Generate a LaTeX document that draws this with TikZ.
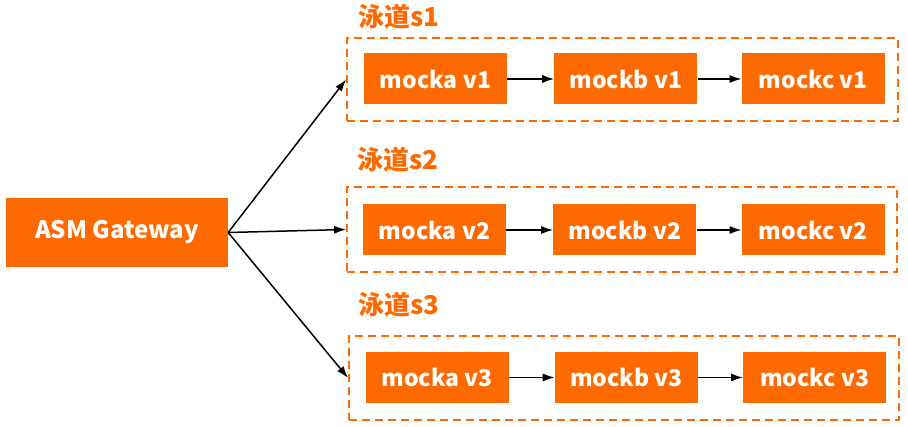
\documentclass[tikz,border=0pt]{standalone}
\usepackage{fontspec}
\setmainfont{Noto Sans CJK SC}
\usetikzlibrary{shapes,arrows,arrows.meta,positioning,calc}
\definecolor{orange1}{RGB}{255,106,0}

\begin{document}
\begin{tikzpicture}[x=1pt, y=-1pt, node distance=47pt,
    >={Latex[length=12pt,width=8pt]},
    box/.style={fill=orange1, text=white, font=\bfseries\fontsize{23}{26}\selectfont,
        minimum width=143pt, minimum height=51pt, inner sep=0pt},
    lane/.style={draw=orange1, line width=1.8pt, dash pattern=on 8pt off 5pt,
        minimum width=550pt, minimum height=84pt, inner sep=0pt},
    lanelabel/.style={text=orange1, font=\bfseries\fontsize{26}{28}\selectfont,
        anchor=west, inner sep=0pt}]
    \useasboundingbox (0,0) rectangle (908,427);

    \node[box, minimum width=222pt, minimum height=69pt, font=\bfseries\fontsize{24}{26}\selectfont] (gw) at (117,232.5) {ASM Gateway};

    % lane s1
    \node[lane, minimum width=551pt, minimum height=83pt] (lane1) at (622.5,79.5) {};
    \node[lanelabel] (label1) at (358,17) {泳道s1};
    \node[box] (mockav1) at (435.5,79) {mocka v1};
    \node[box, right=47pt of mockav1] (mockbv1) {mockb v1};
    \node[box, right=44pt of mockbv1] (mockcv1) {mockc v1};

    % lane s2
    \node[lane, minimum height=85pt] (lane2) at (622,229.5) {};
    \node[lanelabel] (label2) at (357,160) {泳道s2};
    \node[box] (mockav2) at (434.5,230) {mocka v2};
    \node[box, right=47pt of mockav2] (mockbv2) {mockb v2};
    \node[box, right=45pt of mockbv2] (mockcv2) {mockc v2};

    % lane s3
    \node[lane] (lane3) at (624,378) {};
    \node[lanelabel] (label3) at (358,305) {泳道s3};
    \node[box] (mockav3) at (437,377.5) {mocka v3};
    \node[box, right=46pt of mockav3] (mockbv3) {mockb v3};
    \node[box, right=45pt of mockbv3] (mockcv3) {mockc v3};

    \draw[->, line width=1.5pt] (gw.east) -- (lane1.west);
    \draw[->, line width=1.5pt] (gw.east) -- (lane2.west);
    \draw[->, line width=1.5pt] (gw.east) -- (lane3.west);

    \draw[->, line width=1.5pt] (mockav1) -- (mockbv1);
    \draw[->, line width=1.5pt] (mockbv1) -- (mockcv1);
    \draw[->, line width=1.5pt] (mockav2) -- (mockbv2);
    \draw[->, line width=1.5pt] (mockbv2) -- (mockcv2);
    \draw[->, line width=1.5pt] (mockav3) -- (mockbv3);
    \draw[->, line width=1.5pt] (mockbv3) -- (mockcv3);
\end{tikzpicture}
\end{document}
